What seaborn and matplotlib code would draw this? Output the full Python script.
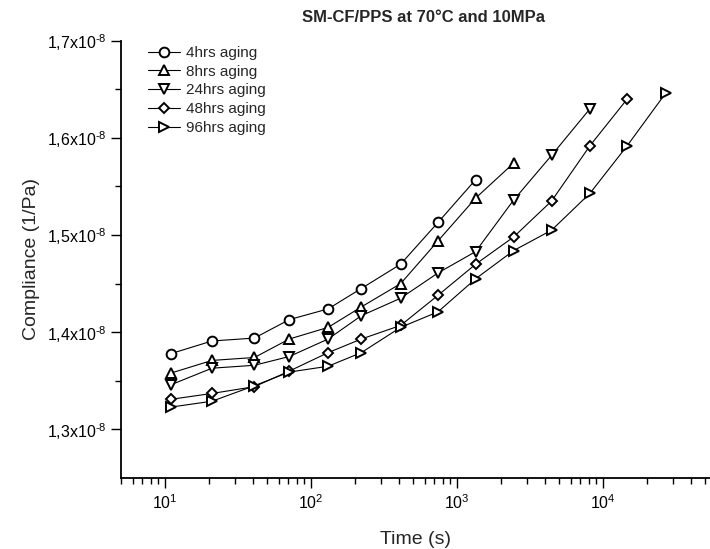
import numpy as np
import pandas as pd
import seaborn as sns
import matplotlib
matplotlib.use('Agg')
import matplotlib.pyplot as plt
from matplotlib.ticker import FixedLocator, FuncFormatter, LogLocator, NullFormatter

# Time points (s)
time_s = [11, 21, 41, 71, 131, 221, 411, 741, 1341, 2441, 4441, 8141, 14641, 26841]

# Compliance in units of 1e-8 1/Pa
c_4h = [1.378, 1.391, 1.394, 1.413, 1.424, 1.445, 1.470, 1.513, 1.557]
c_8h = [1.358, 1.371, 1.374, 1.393, 1.405, 1.426, 1.450, 1.494, 1.538, 1.574]
c_24h = [1.346, 1.363, 1.366, 1.375, 1.393, 1.417, 1.435, 1.461, 1.483, 1.536, 1.582, 1.630]
c_48h = [1.331, 1.337, 1.344, 1.360, 1.379, 1.393, 1.407, 1.438, 1.470, 1.498, 1.535, 1.592, 1.640]
c_96h = [1.323, 1.329, 1.345, 1.359, 1.365, 1.379, 1.405, 1.421, 1.455, 1.484, 1.505, 1.543, 1.592, 1.646]

labels = ['4hrs aging', '8hrs aging', '24hrs aging', '48hrs aging', '96hrs aging']
markers = ['o', '^', 'v', 'D', '>']
series = [c_4h, c_8h, c_24h, c_48h, c_96h]

rows = []
for lab, vals in zip(labels, series):
    for t, v in zip(time_s, vals):
        rows.append({'time': t, 'compliance': v * 1e-8, 'aging': lab})
df = pd.DataFrame(rows)

sns.set_style('ticks')
plt.rcParams['font.family'] = ['Liberation Sans', 'DejaVu Sans']
plt.rcParams['mathtext.fontset'] = 'custom'
plt.rcParams['mathtext.rm'] = 'Liberation Sans'
plt.rcParams['axes.unicode_minus'] = False

fig = plt.figure(figsize=(7.1, 5.49), dpi=100)
ax = fig.add_axes([121 / 710, 1 - 478 / 549, 1 - 121 / 710, (478 - 40.7) / 549])

for lab, m in zip(labels, markers):
    sub = df[df['aging'] == lab]
    msize = 5.5 if m == 'D' else 7
    sns.lineplot(data=sub, x='time', y='compliance', ax=ax, color='black',
                 linewidth=0.8, marker=m, markersize=msize, markerfacecolor='white',
                 markeredgecolor='black', markeredgewidth=1.4, label=lab)

ax.set_xscale('log')
ax.set_xlim(5, 54000)
ax.set_ylim(1.25e-8, 1.7e-8)

ax.xaxis.set_major_locator(FixedLocator([10, 100, 1000, 10000]))
ax.xaxis.set_major_formatter(FuncFormatter(
    lambda v, p: r'10$^{\mathregular{%d}}$' % int(round(np.log10(v)))))
ax.xaxis.set_minor_locator(LogLocator(base=10, subs=np.arange(2, 10), numticks=20))
ax.xaxis.set_minor_formatter(NullFormatter())

yt = [1.3e-8, 1.4e-8, 1.5e-8, 1.6e-8, 1.7e-8]
ax.yaxis.set_major_locator(FixedLocator(yt))
ax.yaxis.set_major_formatter(FuncFormatter(
    lambda v, p: ('%.1f' % (v * 1e8)).replace('.', ',') + r'x10$^{\text{-8}}$'))
ax.yaxis.set_minor_locator(FixedLocator([1.35e-8, 1.45e-8, 1.55e-8, 1.65e-8]))

ax.tick_params(axis='both', which='major', direction='out', length=7, width=1,
               labelsize=11.5, color='black', labelcolor='black')
ax.tick_params(axis='both', which='minor', direction='out', length=4, width=1, color='black')
ax.tick_params(axis='x', pad=4)

sns.despine(ax=ax)
for s in ['left', 'bottom']:
    ax.spines[s].set_linewidth(1.3)
    ax.spines[s].set_color('black')

ax.set_xlabel('Time (s)', fontsize=14, labelpad=14)
ax.set_ylabel('Compliance (1/Pa)', fontsize=14, labelpad=5)
fig.text(423 / 710, 1 - 18 / 549, 'SM-CF/PPS at 70°C and 10MPa', fontsize=12,
         fontweight='bold', ha='center', va='center')

ax.legend(loc='upper left', bbox_to_anchor=(148 / 710, 1 - 46 / 549),
          bbox_transform=fig.transFigure, frameon=False, fontsize=11,
          handlelength=2.1, handletextpad=0.4, labelspacing=0.31,
          borderpad=0, borderaxespad=0)

fig.savefig('out.png', dpi=100)
